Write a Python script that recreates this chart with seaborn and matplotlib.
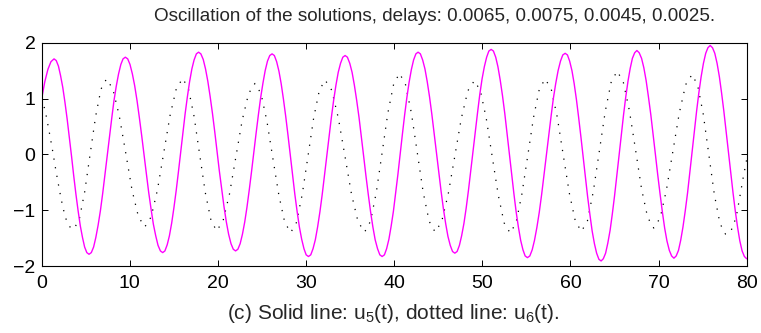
import pandas as pd
import matplotlib
matplotlib.use("Agg")
import matplotlib.pyplot as plt
import seaborn as sns

# u5(t): solid magenta line (peaks, troughs and points between)
u5_t = [0.00, 0.35, 0.70, 1.05,
        1.40, 1.90, 2.39, 2.89, 3.39, 3.88, 4.38, 4.87,
        5.37, 5.89, 6.40, 6.92, 7.43, 7.95, 8.46, 8.98,
        9.49, 10.02, 10.55, 11.08, 11.61, 12.14, 12.67, 13.20,
        13.73, 14.24, 14.75, 15.26, 15.77, 16.27, 16.78, 17.29,
        17.80, 18.33, 18.85, 19.38, 19.90, 20.43, 20.95, 21.48,
        22.00, 22.52, 23.04, 23.55, 24.07, 24.59, 25.11, 25.62,
        26.14, 26.66, 27.17, 27.69, 28.21, 28.72, 29.24, 29.76,
        30.27, 30.79, 31.31, 31.83, 32.35, 32.87, 33.39, 33.91,
        34.43, 34.96, 35.48, 36.01, 36.53, 37.06, 37.58, 38.11,
        38.63, 39.14, 39.65, 40.16, 40.67, 41.18, 41.69, 42.20,
        42.71, 43.23, 43.75, 44.27, 44.80, 45.32, 45.84, 46.36,
        46.88, 47.40, 47.91, 48.43, 48.94, 49.46, 49.97, 50.49,
        51.00, 51.52, 52.03, 52.55, 53.06, 53.58, 54.09, 54.61,
        55.12, 55.66, 56.19, 56.73, 57.26, 57.80, 58.33, 58.87,
        59.40, 59.91, 60.42, 60.93, 61.44, 61.95, 62.46, 62.97,
        63.48, 63.99, 64.50, 65.00, 65.51, 66.02, 66.53, 67.03,
        67.54, 68.07, 68.59, 69.12, 69.64, 70.17, 70.69, 71.22,
        71.74, 72.26, 72.77, 73.29, 73.80, 74.32, 74.83, 75.35,
        75.86, 76.38, 76.90, 77.41, 77.93, 78.45, 78.97, 79.48,
        80.00]
u5 = [1.00, 1.30, 1.52, 1.66,
      1.71, 1.58, 1.20, 0.63, -0.04, -0.71, -1.28, -1.66,
      -1.79, -1.66, -1.27, -0.70, -0.02, 0.65, 1.22, 1.61,
      1.74, 1.61, 1.23, 0.66, -0.01, -0.68, -1.25, -1.63,
      -1.76, -1.62, -1.23, -0.65, 0.04, 0.72, 1.30, 1.69,
      1.83, 1.70, 1.31, 0.73, 0.05, -0.63, -1.21, -1.60,
      -1.73, -1.60, -1.21, -0.64, 0.04, 0.71, 1.28, 1.67,
      1.80, 1.66, 1.27, 0.68, -0.02, -0.71, -1.30, -1.69,
      -1.83, -1.69, -1.30, -0.72, -0.03, 0.66, 1.24, 1.63,
      1.77, 1.63, 1.24, 0.66, -0.03, -0.72, -1.30, -1.69,
      -1.83, -1.69, -1.29, -0.70, 0.00, 0.70, 1.29, 1.69,
      1.83, 1.69, 1.30, 0.72, 0.03, -0.66, -1.24, -1.63,
      -1.77, -1.63, -1.24, -0.64, 0.06, 0.75, 1.35, 1.74,
      1.88, 1.74, 1.33, 0.73, 0.02, -0.70, -1.30, -1.71,
      -1.85, -1.71, -1.31, -0.72, -0.02, 0.68, 1.27, 1.67,
      1.81, 1.67, 1.27, 0.66, -0.05, -0.76, -1.37, -1.77,
      -1.91, -1.77, -1.36, -0.75, -0.03, 0.70, 1.31, 1.72,
      1.86, 1.72, 1.32, 0.71, 0.00, -0.71, -1.32, -1.72,
      -1.86, -1.72, -1.30, -0.69, 0.05, 0.78, 1.39, 1.81,
      1.95, 1.81, 1.39, 0.77, 0.04, -0.69, -1.31, -1.73,
      -1.87]

# extra u5 readings taken between the ones above, so the curve stays round
u5_t_between = [1.65, 2.14, 2.64, 3.14, 3.63, 4.13, 4.63, 5.12,
                5.63, 6.14, 6.66, 7.17, 7.69, 8.20, 8.72, 9.23,
                9.76, 10.29, 10.82, 11.35, 11.88, 12.41, 12.94, 13.47,
                13.98, 14.49, 15.00, 15.51, 16.02, 16.53, 17.04, 17.55,
                18.06, 18.59, 19.11, 19.64, 20.16, 20.69, 21.21, 21.74,
                22.26, 22.78, 23.29, 23.81, 24.33, 24.85, 25.36, 25.88,
                26.40, 26.92, 27.43, 27.95, 28.47, 28.98, 29.50, 30.01,
                30.53, 31.05, 31.57, 32.09, 32.61, 33.13, 33.65, 34.17,
                34.69, 35.22, 35.74, 36.27, 36.79, 37.32, 37.84, 38.37,
                38.89, 39.40, 39.91, 40.42, 40.93, 41.44, 41.95, 42.46,
                42.97, 43.49, 44.01, 44.53, 45.06, 45.58, 46.10, 46.62,
                47.14, 47.65, 48.17, 48.68, 49.20, 49.71, 50.23, 50.74,
                51.26, 51.77, 52.29, 52.80, 53.32, 53.83, 54.35, 54.86,
                55.39, 55.92, 56.46, 56.99, 57.53, 58.06, 58.60, 59.13,
                59.66, 60.17, 60.68, 61.19, 61.70, 62.21, 62.72, 63.23,
                63.73, 64.24, 64.75, 65.26, 65.77, 66.27, 66.78, 67.29,
                67.80, 68.33, 68.85, 69.38, 69.90, 70.43, 70.95, 71.48,
                72.00, 72.51, 73.03, 73.54, 74.06, 74.57, 75.09, 75.60,
                76.12, 76.64, 77.15, 77.67, 78.19, 78.71, 79.22, 79.74]
u5_between = [1.68, 1.41, 0.93, 0.30, -0.38, -1.01, -1.49, -1.76,
              -1.76, -1.49, -1.01, -0.37, 0.32, 0.96, 1.44, 1.71,
              1.71, 1.44, 0.96, 0.33, -0.35, -0.98, -1.46, -1.73,
              -1.73, -1.46, -0.96, -0.32, 0.39, 1.03, 1.53, 1.80,
              1.80, 1.53, 1.04, 0.40, -0.30, -0.94, -1.43, -1.70,
              -1.70, -1.43, -0.95, -0.31, 0.38, 1.02, 1.50, 1.77,
              1.77, 1.49, 0.99, 0.34, -0.37, -1.02, -1.52, -1.80,
              -1.80, -1.53, -1.03, -0.38, 0.32, 0.97, 1.47, 1.74,
              1.74, 1.47, 0.97, 0.32, -0.38, -1.03, -1.53, -1.80,
              -1.80, -1.52, -1.02, -0.36, 0.36, 1.02, 1.52, 1.80,
              1.80, 1.53, 1.03, 0.38, -0.32, -0.97, -1.47, -1.74,
              -1.74, -1.46, -0.96, -0.30, 0.41, 1.07, 1.57, 1.85,
              1.85, 1.57, 1.05, 0.38, -0.35, -1.02, -1.54, -1.82,
              -1.82, -1.54, -1.04, -0.38, 0.34, 1.00, 1.50, 1.78,
              1.78, 1.50, 0.98, 0.31, -0.41, -1.08, -1.60, -1.88,
              -1.87, -1.59, -1.07, -0.39, 0.34, 1.02, 1.54, 1.82,
              1.82, 1.55, 1.03, 0.36, -0.36, -1.03, -1.55, -1.82,
              -1.82, -1.54, -1.01, -0.33, 0.42, 1.10, 1.63, 1.91,
              1.91, 1.63, 1.10, 0.41, -0.33, -1.02, -1.55, -1.83]

# u6(t): dotted black line
u6_t = [0.00, 0.40, 0.80, 1.20, 1.60, 2.00, 2.40, 2.80, 3.20,
        3.65, 4.27, 4.88, 5.50, 6.12, 6.73,
        7.35, 8.08, 8.80, 9.53, 10.25, 10.98,
        11.70, 12.42, 13.13, 13.85, 14.57, 15.28,
        16.00, 16.64, 17.29, 17.93, 18.57, 19.22,
        19.86, 20.58, 21.31, 22.03, 22.75, 23.48,
        24.20, 24.88, 25.55, 26.23, 26.91, 27.58,
        28.26, 28.91, 29.56, 30.21, 30.86, 31.51,
        32.16, 32.91, 33.66, 34.41, 35.15, 35.90,
        36.65, 37.31, 37.97, 38.63, 39.28, 39.94,
        40.60, 41.27, 41.95, 42.62, 43.29, 43.97,
        44.64, 45.38, 46.13, 46.87, 47.61, 48.36,
        49.10, 49.78, 50.45, 51.13, 51.81, 52.48,
        53.16, 53.82, 54.48, 55.15, 55.81, 56.47,
        57.13, 57.82, 58.50, 59.19, 59.88, 60.56,
        61.25, 61.93, 62.60, 63.28, 63.95, 64.63,
        65.30, 65.99, 66.68, 67.38, 68.07, 68.76,
        69.45, 70.18, 70.90, 71.63, 72.35, 73.08,
        73.80, 74.43, 75.07, 75.70, 76.33, 76.97,
        77.60, 78.20, 78.80, 79.20, 79.60, 80.00]
u6 = [1.00, 0.78, 0.45, 0.10, -0.28, -0.63, -0.95, -1.18, -1.30,
      -1.34, -1.16, -0.67, 0.01, 0.68, 1.17,
      1.35, 1.17, 0.69, 0.03, -0.64, -1.12,
      -1.30, -1.12, -0.64, 0.03, 0.70, 1.18,
      1.36, 1.18, 0.68, -0.01, -0.69, -1.19,
      -1.37, -1.19, -0.71, -0.05, 0.61, 1.09,
      1.27, 1.09, 0.60, -0.07, -0.73, -1.22,
      -1.40, -1.22, -0.72, -0.04, 0.65, 1.15,
      1.33, 1.15, 0.65, -0.03, -0.71, -1.21,
      -1.39, -1.20, -0.68, 0.03, 0.74, 1.26,
      1.45, 1.26, 0.74, 0.03, -0.68, -1.20,
      -1.39, -1.21, -0.71, -0.04, 0.64, 1.14,
      1.32, 1.14, 0.64, -0.05, -0.73, -1.23,
      -1.41, -1.23, -0.72, -0.03, 0.66, 1.17,
      1.35, 1.17, 0.67, -0.02, -0.70, -1.20,
      -1.38, -1.19, -0.66, 0.06, 0.77, 1.30,
      1.49, 1.30, 0.79, 0.09, -0.62, -1.13,
      -1.32, -1.14, -0.63, 0.06, 0.74, 1.25,
      1.43, 1.24, 0.72, 0.00, -0.72, -1.24,
      -1.43, -1.38, -1.13, -0.78, -0.42, -0.09]

x_ticks = [0, 10, 20, 30, 40, 50, 60, 70, 80]
y_ticks = [-2, -1, 0, 1, 2]

title = "Oscillation of the solutions, delays: 0.0065, 0.0075, 0.0045, 0.0025."
xlabel = r"(c) Solid line: u$_\mathregular{5}$(t), dotted line: u$_\mathregular{6}$(t)."


def main():
    sns.set_style("ticks")
    plt.rcParams["font.family"] = ["Liberation Sans", "DejaVu Sans"]
    plt.rcParams["mathtext.fontset"] = "custom"
    plt.rcParams["mathtext.rm"] = "Liberation Sans"

    df5 = pd.DataFrame({"t": u5_t + u5_t_between, "u": u5 + u5_between})
    df6 = pd.DataFrame({"t": u6_t, "u": u6})

    fig = plt.figure(figsize=(7.61, 3.33), dpi=100)
    ax = fig.add_axes([0.0548, 0.2012, 0.9264, 0.6706])

    sns.lineplot(data=df6, x="t", y="u", ax=ax, estimator=None, sort=True,
                 color="black", linewidth=0.9, linestyle=(0, (1, 6)))
    sns.lineplot(data=df5, x="t", y="u", ax=ax, estimator=None, sort=True,
                 color="#ff00ff", linewidth=1.0)

    ax.set_xlim(0, 80)
    ax.set_ylim(-2, 2)
    ax.set_xticks(x_ticks)
    ax.set_yticks(y_ticks)
    ax.tick_params(direction="in", length=4, width=0.7, labelsize=14,
                   top=True, right=True, colors="black")
    ax.tick_params(axis="x", pad=6.5)
    ax.tick_params(axis="y", pad=4.5)
    for s in ax.spines.values():
        s.set_visible(True)
        s.set_linewidth(0.8)
        s.set_color("black")
    ax.set_xlabel("")
    ax.set_ylabel("")

    fig.text(0.571, 0.937, title, fontsize=13.6, ha="center", va="baseline")
    fig.text(0.517, 0.042, xlabel, fontsize=15, ha="center", va="baseline")

    fig.savefig("out.png", dpi=100, facecolor="white")
    plt.close(fig)


if __name__ == "__main__":
    main()
